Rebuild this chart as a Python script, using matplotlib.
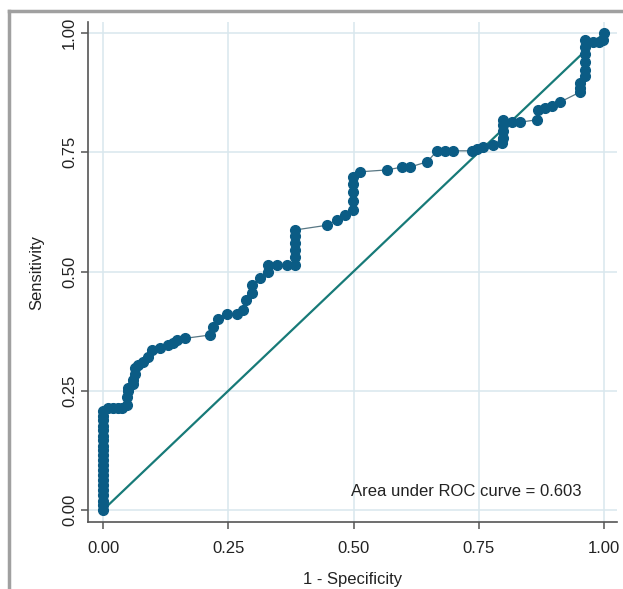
import matplotlib.pyplot as plt
from matplotlib.lines import Line2D

# ROC points (1 - specificity, sensitivity)
fpr = [0.0, 0.0, 0.0, 0.0, 0.0, 0.0, 0.0, 0.0, 0.0, 0.0, 0.0,
       0.0, 0.0, 0.0, 0.0, 0.0, 0.0, 0.0, 0.0, 0.0, 0.0,
       0.010, 0.020, 0.030, 0.038,
       0.048, 0.048, 0.050, 0.050, 0.060, 0.060, 0.064, 0.064,
       0.070, 0.080, 0.090, 0.098, 0.114, 0.130, 0.140, 0.148, 0.164,
       0.214, 0.220, 0.230, 0.247, 0.267, 0.280, 0.285, 0.297, 0.297,
       0.313, 0.329, 0.329, 0.347, 0.367, 0.383, 0.383, 0.383, 0.383,
       0.383, 0.383, 0.447, 0.467, 0.483, 0.499, 0.499, 0.499, 0.499,
       0.499, 0.513, 0.567, 0.597, 0.613, 0.647, 0.667, 0.683, 0.699,
       0.737, 0.747, 0.758, 0.778, 0.796, 0.798, 0.798, 0.798, 0.798,
       0.816, 0.832, 0.866, 0.868, 0.882, 0.896, 0.912, 0.952, 0.952,
       0.952, 0.962, 0.962, 0.962, 0.962, 0.962, 0.962, 0.978, 0.990,
       0.998, 1.0]
tpr = [0.000, 0.010, 0.020, 0.031, 0.042, 0.052, 0.063, 0.073, 0.083,
       0.094, 0.104, 0.115, 0.125, 0.135, 0.146, 0.156, 0.167, 0.177,
       0.188, 0.198, 0.208,
       0.214, 0.214, 0.214, 0.214,
       0.220, 0.237, 0.250, 0.256, 0.265, 0.273, 0.285, 0.298,
       0.305, 0.310, 0.320, 0.335, 0.340, 0.346, 0.350, 0.356, 0.360,
       0.367, 0.384, 0.400, 0.410, 0.410, 0.420, 0.440, 0.455, 0.472,
       0.486, 0.500, 0.514, 0.514, 0.514, 0.514, 0.530, 0.545, 0.560,
       0.575, 0.587, 0.597, 0.608, 0.618, 0.629, 0.648, 0.667, 0.683,
       0.698, 0.709, 0.713, 0.719, 0.719, 0.730, 0.753, 0.753, 0.753,
       0.753, 0.756, 0.761, 0.765, 0.769, 0.780, 0.795, 0.808, 0.818,
       0.813, 0.813, 0.818, 0.839, 0.843, 0.847, 0.855, 0.876, 0.885,
       0.895, 0.910, 0.922, 0.940, 0.955, 0.970, 0.985, 0.981, 0.981,
       0.985, 1.0]
ticks = [0.0, 0.25, 0.5, 0.75, 1.0]
tick_labels = ['0.00', '0.25', '0.50', '0.75', '1.00']
auc_text = 'Area under ROC curve = 0.603'

plt.rcParams['font.family'] = ['Liberation Sans', 'DejaVu Sans']
fs = 12

fig = plt.figure(figsize=(6.23, 5.89), dpi=100)
ax = fig.add_axes([88 / 623, 1 - 522 / 589, 529 / 623, 500 / 589])

ax.plot([0, 1], [0, 1], color='#177a78', lw=1.6, zorder=2)
ax.plot(fpr, tpr, color='#587784', lw=0.9, zorder=3)
ax.plot(fpr, tpr, ls='none', marker='o', ms=7, color='#0b5c85',
        mec='#0b5c85', zorder=4)

ax.set_xlim(-0.03, 1.026)
ax.set_ylim(-0.025, 1.023)
ax.set_xticks(ticks)
ax.set_xticklabels(tick_labels)
ax.set_yticks(ticks)
ax.set_yticklabels(tick_labels, rotation=90, va='center')
ax.grid(True, color='#d9e7ee', lw=1.1)
ax.set_axisbelow(True)

for side in ['top', 'right']:
    ax.spines[side].set_visible(False)
for side in ['left', 'bottom']:
    ax.spines[side].set_color('#555555')
    ax.spines[side].set_linewidth(1.2)
ax.tick_params(direction='out', length=5, width=1.1, color='#555555',
               labelsize=fs, labelcolor='#222222')
ax.tick_params(axis='x', pad=9)
ax.tick_params(axis='y', pad=3)

ax.set_xlabel('1 - Specificity', fontsize=fs, color='#222222', labelpad=11)
ax.set_ylabel('Sensitivity', fontsize=fs, color='#222222', labelpad=13)

ax.text(0.725, 0.038, auc_text, ha='center', va='center', fontsize=fs,
        color='#222222')

# grey frame of the surrounding figure box
fig.add_artist(Line2D([9 / 623, 9 / 623], [0, 1 - 11 / 589],
                      transform=fig.transFigure, color='#a0a0a0', lw=2.5))
fig.add_artist(Line2D([9 / 623, 1], [1 - 11 / 589, 1 - 11 / 589],
                      transform=fig.transFigure, color='#a0a0a0', lw=2.5))

fig.savefig('out.png', dpi=100)
